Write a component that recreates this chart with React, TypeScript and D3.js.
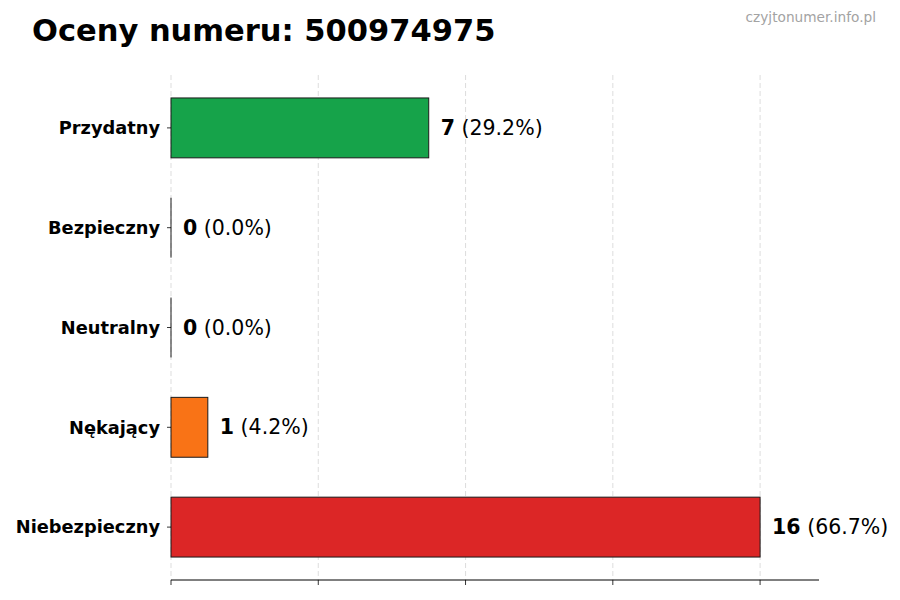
import * as d3 from "d3";

const categories = ["Przydatny", "Bezpieczny", "Neutralny", "Nękający", "Niebezpieczny"];
const counts = [7, 0, 0, 1, 16];
const colors = ["#16a34a", "#9ca3af", "#6b7280", "#f97316", "#dc2626"];
const xTicks = [0, 4, 8, 12, 16];

const W = 900;
const H = 600;
const margin = { top: 75, right: 81, bottom: 20, left: 171 };

export default function App() {
  const total = d3.sum(counts);
  const x = d3
    .scaleLinear()
    .domain([0, d3.max(counts)! * 1.1])
    .range([margin.left, W - margin.right]);
  // matplotlib-like barh: index 0 at the bottom, bar height 0.6, 5% margins
  const n = categories.length;
  const pad = (n - 1 + 0.6) * 0.05;
  const y = d3
    .scaleLinear()
    .domain([-0.3 - pad, n - 1 + 0.3 + pad])
    .range([H - margin.bottom, margin.top]);
  const idx = (i: number) => n - 1 - i;
  const barH = y(0) - y(0.6);
  const font = "DejaVu Sans, sans-serif";

  return (
    <svg width={W} height={H} style={{ position: "absolute", left: 0, top: 0, fontFamily: font }}>
      <rect width={W} height={H} fill="#fff" />
      <text x={32} y={41} fontSize={30.5} fontWeight="bold" fill="#000">
        Oceny numeru: 500974975
      </text>
      <text x={876} y={22} fontSize={13.7} fill="#a3a3a3" textAnchor="end">
        czyjtonumer.info.pl
      </text>

      {xTicks.map((t) => (
        <line
          key={t}
          x1={x(t)}
          x2={x(t)}
          y1={margin.top}
          y2={H - margin.bottom}
          stroke="#d4d4d4"
          strokeWidth={0.8}
          strokeDasharray="5,3"
        />
      ))}

      {categories.map((c, i) => {
        const yc = y(idx(i));
        const w = x(counts[i]) - x(0);
        return (
          <g key={c}>
            {w > 0 ? (
              <rect
                x={x(0)}
                y={yc - barH / 2}
                width={w}
                height={barH}
                fill={colors[i]}
                stroke="#1a1a1a"
                strokeWidth={1}
              />
            ) : (
              <line x1={x(0)} x2={x(0)} y1={yc - barH / 2} y2={yc + barH / 2} stroke="#1a1a1a" strokeWidth={1} />
            )}
            <line x1={x(0) - 4} x2={x(0)} y1={yc} y2={yc} stroke="#000" strokeWidth={0.8} />
            <text x={x(0) - 11} y={yc} dy="0.35em" fontSize={17.8} fontWeight="bold" textAnchor="end">
              {c}
            </text>
            <text x={x(counts[i]) + 12} y={yc} dy="0.35em" fontSize={20.5}>
              <tspan fontWeight="bold">{counts[i]}</tspan>
              <tspan> ({((counts[i] / total) * 100).toFixed(1)}%)</tspan>
            </text>
          </g>
        );
      })}

      <line
        x1={x.range()[0]}
        x2={x.range()[1]}
        y1={H - margin.bottom}
        y2={H - margin.bottom}
        stroke="#000"
        strokeWidth={1}
      />
      {xTicks.map((t) => (
        <line
          key={t}
          x1={x(t)}
          x2={x(t)}
          y1={H - margin.bottom}
          y2={H - margin.bottom + 5}
          stroke="#000"
          strokeWidth={0.8}
        />
      ))}
    </svg>
  );
}
